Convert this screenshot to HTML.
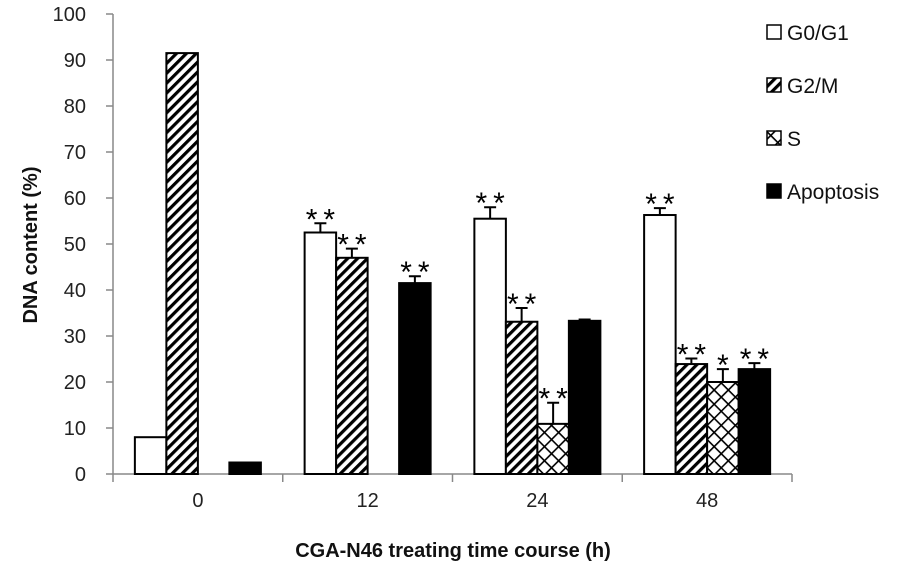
<!DOCTYPE html>
<html><head><meta charset="utf-8"><style>
html,body{margin:0;padding:0;background:#fff;}
svg{display:block;font-family:"Liberation Sans",sans-serif;}
</style></head><body>
<svg id="chart" width="909" height="573" viewBox="0 0 909 573">
<defs>
<pattern id="diag" patternUnits="userSpaceOnUse" width="7" height="7" patternTransform="rotate(45)">
<rect width="7" height="7" fill="#fff"/><rect width="3.2" height="7" fill="#000"/></pattern>
<pattern id="cross" patternUnits="userSpaceOnUse" width="10" height="10" patternTransform="rotate(45)">
<rect width="10" height="10" fill="#fff"/><rect width="1.6" height="10" fill="#000"/><rect width="10" height="1.6" fill="#000"/></pattern>
</defs>
<g id="axes"></g>
<g id="bars"></g>
<g id="legend"></g>
</svg>
<script>
const categories = ["0","12","24","48"];
const seriesNames = ["G0/G1","G2/M","S","Apoptosis"];
const g0g1 = [8, 52.5, 55.5, 56.3];
const g2m = [91.5, 47, 33.1, 23.9];
const sPhase = [0, 0, 10.9, 20];
const apoptosis = [2.5, 41.5, 33.3, 22.8];
const g0g1Err = [0, 2, 2.5, 1.5];
const g2mErr = [0, 2, 3, 1.2];
const sErr = [0, 0, 4.6, 2.8];
const apoptosisErr = [0, 1.5, 0.3, 1.3];
const g0g1Sig = ["", "**", "**", "**"];
const g2mSig = ["", "**", "**", "**"];
const sSig = ["", "", "**", "*"];
const apoptosisSig = ["", "**", "", "**"];
const yTicks = [0,10,20,30,40,50,60,70,80,90,100];

const NS="http://www.w3.org/2000/svg";
const X0=113, X1=792, Y0=474, Y100=14;
const catW=(X1-X0)/categories.length, barW=31.5, groupOff=(catW-4*barW)/2;
function y(v){return Y0-(Y0-Y100)*v/100;}
function xBar(ci,si){return X0+ci*catW+groupOff+si*barW;}
function mk(tag,attrs,parent){const e=document.createElementNS(NS,tag);for(const k in attrs)e.setAttribute(k,attrs[k]);parent.appendChild(e);return e;}
const axes=document.getElementById('axes'), bars=document.getElementById('bars'), legend=document.getElementById('legend');

let yl=mk('line',{x1:X0,y1:Y100,x2:X0,y2:Y0,stroke:'#888','stroke-width':1.5},axes);


let xl=mk('line',{x1:X0,y1:Y0,x2:X1,y2:Y0,stroke:'#888','stroke-width':1.5},axes);


yTicks.forEach(t=>{
  let tk=mk('line',{x1:X0-7,y1:y(t),x2:X0,y2:y(t),stroke:'#888','stroke-width':1.5},axes);
  
  
  let tx=mk('text',{x:86,y:y(t)+7,'text-anchor':'end','font-size':20,fill:'#222'},axes);
  tx.textContent=t;
  
  
});
for(let i=0;i<=categories.length;i++){
  let tk=mk('line',{x1:X0+i*catW,y1:Y0,x2:X0+i*catW,y2:Y0+8,stroke:'#888','stroke-width':1.5},axes);
  
  
}
categories.forEach((c,i)=>{
  let tx=mk('text',{x:X0+(i+0.5)*catW,y:507,'text-anchor':'middle','font-size':20,fill:'#222'},axes);
  tx.textContent=c;
  
  
});
let yt=mk('text',{x:0,y:0,transform:'translate(37,245) rotate(-90)','text-anchor':'middle','font-size':20,'font-weight':'bold',fill:'#111'},axes);
yt.textContent='DNA content (%)';


let xt=mk('text',{x:453,y:557,'text-anchor':'middle','font-size':20,'font-weight':'bold',fill:'#111'},axes);
xt.textContent='CGA-N46 treating time course (h)';



const series=[g0g1,g2m,sPhase,apoptosis], errs=[g0g1Err,g2mErr,sErr,apoptosisErr], sigs=[g0g1Sig,g2mSig,sSig,apoptosisSig];
const fills=['#fff','url(#diag)','url(#cross)','#000'];
series.forEach((vals,si)=>{
  vals.forEach((v,ci)=>{
    const x=xBar(ci,si);
    if(v>0){
      let r=mk('rect',{x:x,y:y(v),width:barW,height:Y0-y(v),fill:fills[si],stroke:'#000','stroke-width':2},bars);
      
      
    }
    const e=errs[si][ci];
    const top=y(v+e);
    if(e>0){
      let el=mk('path',{d:`M${x+barW/2},${y(v)} V${top} M${x+barW/2-6},${top} H${x+barW/2+6}`,stroke:'#000','stroke-width':2,fill:'none'},bars);
      
      
    }
    const s=sigs[si][ci];
    if(s){
      let st=mk('text',{x:x+barW/2+3,y:top+6,'text-anchor':'middle','font-size':30,'letter-spacing':6,fill:'#000'},bars);
      st.textContent=s;
      
      
    }
  });
});
const legY=[40,93,146,199];
seriesNames.forEach((n,i)=>{
  let r=mk('rect',{x:767,y:legY[i]-15,width:14,height:14,fill:fills[i],stroke:'#000','stroke-width':1.5},legend);
  
  
  let t=mk('text',{x:787,y:legY[i],'font-size':21,fill:'#111'},legend);
  t.textContent=n;
  
  
});
</script>
</body></html>
